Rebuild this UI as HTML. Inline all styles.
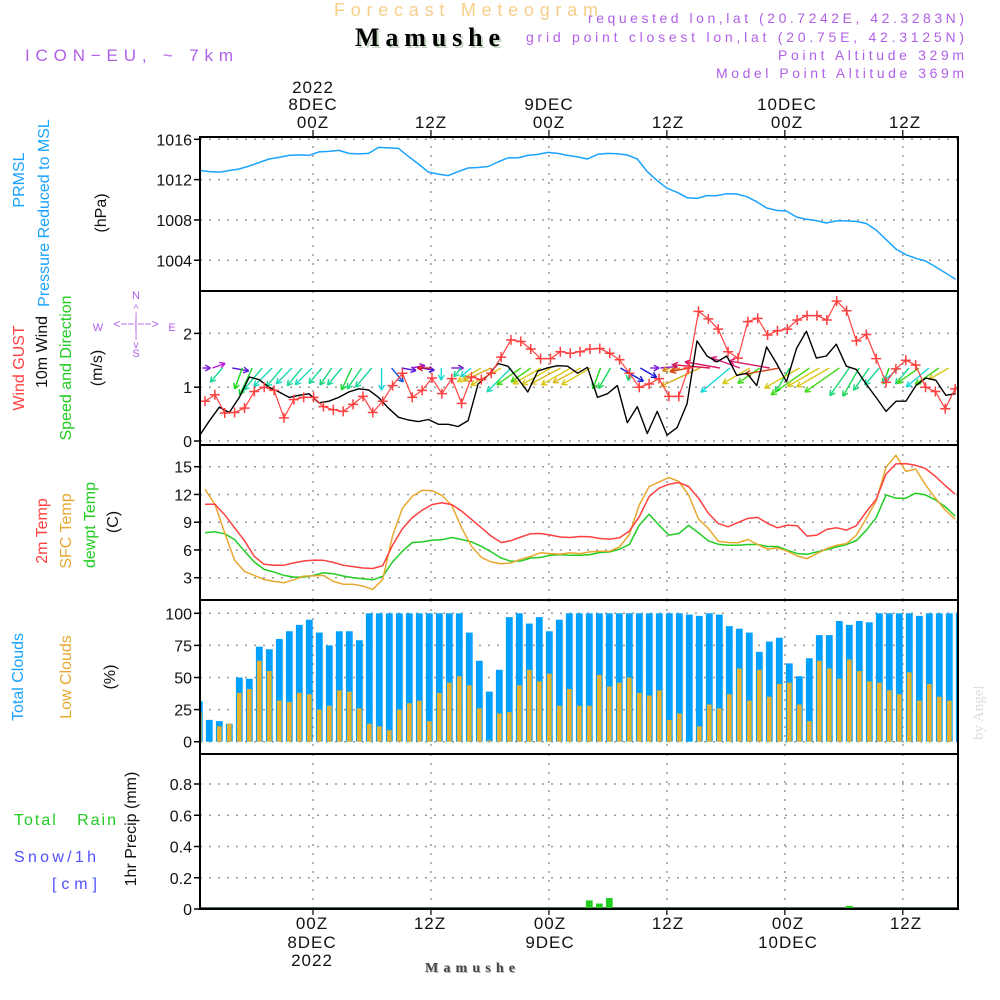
<!DOCTYPE html>
<html><head><meta charset="utf-8"><title>Meteogram Mamushe</title>
<style>
html,body{margin:0;padding:0;background:#fff;}
svg{display:block;font-family:"Liberation Sans",sans-serif;}
.tk{font-size:16px;fill:#111;}
.tm{font-size:17px;fill:#111;text-anchor:middle;letter-spacing:1px;}
</style></head>
<body>
<svg id="chart" width="1000" height="1000" viewBox="0 0 1000 1000" xmlns="http://www.w3.org/2000/svg">
<defs>
<clipPath id="cp1"><rect x="200" y="137" width="758" height="153"/></clipPath>
<clipPath id="cp2"><rect x="200" y="291" width="758" height="154"/></clipPath>
<clipPath id="cp3"><rect x="200" y="445" width="758" height="155"/></clipPath>
<clipPath id="cp4"><rect x="200" y="600" width="758" height="154"/></clipPath>
<clipPath id="cp5"><rect x="200" y="754" width="758" height="155"/></clipPath>
</defs>
<!-- header -->
<text x="334" y="16" font-size="18" fill="#f5cf8a" textLength="264" lengthAdjust="spacing">Forecast Meteogram</text>
<text x="357" y="48" font-size="26" font-weight="bold" font-family="Liberation Serif, serif" fill="#c8d8c8" textLength="145" lengthAdjust="spacing">Mamushe</text>
<text x="355" y="46" font-size="26" font-weight="bold" font-family="Liberation Serif, serif" fill="#000" textLength="145" lengthAdjust="spacing">Mamushe</text>
<text x="25" y="61" font-size="17" fill="#b060e8" textLength="208" lengthAdjust="spacing">ICON−EU, ~ 7km</text>
<g font-size="14" fill="#b060e8">
<text x="588" y="23" textLength="376" lengthAdjust="spacing">requested lon,lat (20.7242E, 42.3283N)</text>
<text x="526" y="42" textLength="438" lengthAdjust="spacing">grid point closest lon,lat (20.75E, 42.3125N)</text>
<text x="778" y="60" textLength="186" lengthAdjust="spacing">Point Altitude 329m</text>
<text x="716" y="78" textLength="248" lengthAdjust="spacing">Model Point Altitude 369m</text>
</g>
<!-- top time labels -->
<g class="tm">
<text x="313" y="93" class="tm">2022</text>
<text x="313" y="110" class="tm">8DEC</text>
<text x="313" y="128" class="tm">00Z</text>
<text x="431" y="128" class="tm">12Z</text>
<text x="549" y="110" class="tm">9DEC</text>
<text x="549" y="128" class="tm">00Z</text>
<text x="668" y="128" class="tm">12Z</text>
<text x="787" y="110" class="tm">10DEC</text>
<text x="787" y="128" class="tm">00Z</text>
<text x="905" y="128" class="tm">12Z</text>
</g>
<g>
<text x="312" y="929" class="tm">00Z</text>
<text x="312" y="948" class="tm">8DEC</text>
<text x="312" y="966" class="tm">2022</text>
<text x="430" y="929" class="tm">12Z</text>
<text x="550" y="929" class="tm">00Z</text>
<text x="550" y="948" class="tm">9DEC</text>
<text x="668" y="929" class="tm">12Z</text>
<text x="788" y="929" class="tm">00Z</text>
<text x="788" y="948" class="tm">10DEC</text>
<text x="906" y="929" class="tm">12Z</text>
</g>
<text x="426" y="973" font-size="14" font-weight="bold" font-family="Liberation Serif, serif" fill="#bbb" textLength="90" lengthAdjust="spacing">Mamushe</text>
<text x="425" y="972" font-size="14" font-weight="bold" font-family="Liberation Serif, serif" fill="#444" textLength="90" lengthAdjust="spacing">Mamushe</text>
<text transform="translate(983,740) rotate(-90)" font-size="15" font-family="Liberation Serif, serif" fill="#ddd">by Angel</text>

<!-- left axis titles -->
<g font-size="16" text-anchor="middle">
<text transform="translate(24,180) rotate(-90)" fill="#1aa3ff">PRMSL</text>
<text transform="translate(49,213) rotate(-90)" fill="#1aa3ff">Pressure Reduced to MSL</text>
<text transform="translate(106,213) rotate(-90)" fill="#111">(hPa)</text>
<text transform="translate(24,368) rotate(-90)" fill="#ff4040">Wind GUST</text>
<text transform="translate(47,352) rotate(-90)" fill="#111">10m Wind</text>
<text transform="translate(71,368) rotate(-90)" fill="#22cc22">Speed and Direction</text>
<text transform="translate(102,368) rotate(-90)" fill="#111">(m/s)</text>
<text transform="translate(47,531) rotate(-90)" fill="#ff4040">2m Temp</text>
<text transform="translate(71,531) rotate(-90)" fill="#e8a830">SFC Temp</text>
<text transform="translate(95,525) rotate(-90)" fill="#22cc22">dewpt Temp</text>
<text transform="translate(118,522) rotate(-90)" fill="#111">(C)</text>
<text transform="translate(23,677) rotate(-90)" fill="#1aa3ff">Total Clouds</text>
<text transform="translate(71,677) rotate(-90)" fill="#e8a830">Low Clouds</text>
<text transform="translate(115,677) rotate(-90)" fill="#111">(%)</text>
<text transform="translate(136,829) rotate(-90)" fill="#111">1hr Precip (mm)</text>
</g>
<text x="14" y="825" font-size="16" fill="#22cc22" textLength="102" lengthAdjust="spacing" xml:space="preserve">Total   Rain</text>
<text x="14" y="862" font-size="16" fill="#5050ff" textLength="82" lengthAdjust="spacing">Snow/1h</text>
<text x="52" y="889" font-size="16" fill="#5050ff" textLength="45" lengthAdjust="spacing">[cm]</text>
<!-- compass -->
<g fill="#b060e8" font-size="11" text-anchor="middle" stroke="none">
<text x="136" y="299">N</text><text x="136" y="357">S</text><text x="98" y="331">W</text><text x="172" y="331">E</text>
<text x="136" y="328" font-size="12">&lt;−−|−−&gt;</text>
<text x="136" y="312" font-size="10">^</text><text x="136" y="320" font-size="10">|</text>
<text x="136" y="338" font-size="10">|</text><text x="136" y="348" font-size="10">v</text>
</g>
<g id="plot"></g>
</svg>
<script>
// ===== data =====
const pressure = [1012.9,1012.8,1012.75,1012.9,1013.05,1013.35,1013.7,1014.05,1014.2,1014.4,1014.45,1014.4,1014.75,1014.8,1014.9,1014.6,1014.55,1014.6,1015.2,1015.15,1015.1,1014.3,1013.55,1012.75,1012.55,1012.4,1012.8,1013.15,1013.2,1013.3,1013.75,1014.15,1014.15,1014.4,1014.5,1014.7,1014.6,1014.4,1014.25,1014.05,1014.5,1014.6,1014.57,1014.44,1014.05,1012.79,1011.9,1011.14,1010.74,1010.21,1010.14,1010.41,1010.41,1010.6,1010.57,1010.31,1009.81,1009.18,1008.95,1008.88,1008.29,1008.06,1007.93,1007.7,1007.9,1007.9,1007.86,1007.66,1007.0,1006.07,1005.11,1004.55,1004.19,1003.92,1003.33,1002.73,1002.1];
const windSpeed = [0.1,0.375,0.63,0.53,0.81,1.19,1.14,1.0,0.91,0.81,0.85,0.88,0.71,0.74,0.81,0.91,0.97,0.95,0.81,0.61,0.44,0.39,0.36,0.4,0.31,0.31,0.27,0.38,1.06,1.22,1.44,1.39,1.16,0.91,1.3,1.36,1.4,1.39,1.26,1.37,0.81,0.88,1.03,0.34,0.64,0.14,0.55,0.11,0.25,0.69,1.86,1.58,1.47,1.58,1.22,1.26,1.03,1.75,1.44,1.1,1.72,2.04,1.54,1.58,1.8,1.39,1.33,1.06,0.81,0.55,0.74,0.74,1.03,1.17,1.13,0.85,0.88];
const windGust = [0.74,0.86,0.52,0.53,0.61,0.92,1.0,0.94,0.43,0.77,0.81,0.81,0.64,0.58,0.55,0.68,0.83,0.53,0.74,1.03,1.26,0.81,0.94,1.17,0.88,1.16,0.7,1.19,1.14,1.26,1.56,1.88,1.85,1.71,1.53,1.53,1.66,1.63,1.66,1.71,1.72,1.63,1.51,1.26,1.0,1.06,1.16,0.83,0.83,1.36,2.41,2.27,2.08,1.66,1.54,2.22,2.28,1.97,2.05,2.08,2.25,2.33,2.33,2.25,2.6,2.42,1.86,1.98,1.53,1.09,1.34,1.5,1.41,1.0,0.92,0.6,0.97];
const windDir = [270,250,40,280,20,25,40,45,40,45,40,45,40,35,40,25,35,40,0,320,280,260,280,90,0,270,40,50,60,65,60,45,55,55,60,60,62,60,62,60,20,30,300,10,300,270,265,70,70,80,65,95,100,50,110,60,55,100,80,30,60,55,60,60,55,35,30,35,40,20,50,40,55,50,55,60,300];
const temp2m = [10.94,10.94,9.8,8.4,7.0,5.3,4.45,4.35,4.35,4.6,4.8,4.9,4.88,4.65,4.35,4.2,4.05,4.0,4.3,6.5,8.3,9.5,10.3,10.9,11.1,10.9,10.2,9.3,8.4,7.5,6.8,7.0,7.4,7.75,7.78,7.6,7.4,7.35,7.45,7.42,7.24,7.17,7.31,8.04,9.59,11.77,12.68,13.11,13.29,12.86,11.59,9.96,8.87,8.5,8.98,9.41,9.52,8.87,8.4,8.69,8.62,7.5,7.6,8.22,8.4,8.15,8.62,10.14,11.48,14.2,15.3,15.33,15.15,14.79,13.95,12.97,12.03];
const tempSfc = [12.57,10.94,7.85,4.88,3.68,3.25,2.81,2.6,2.45,2.77,3.17,3.2,3.25,2.6,2.3,2.3,2.09,1.73,2.81,7.5,10.5,11.8,12.46,12.42,11.9,10.8,8.4,6.4,5.2,4.7,4.5,4.6,5.0,5.3,5.7,5.6,5.55,5.7,5.61,5.79,5.86,5.86,6.33,7.67,10.87,12.86,13.33,13.84,13.4,11.95,9.34,8.33,6.95,6.8,6.77,7.13,6.59,6.08,6.22,5.86,5.35,5.06,5.61,6.15,6.51,6.69,7.6,9.41,11.3,14.93,16.23,14.49,14.75,13.04,11.59,10.32,9.34];
const tempDew = [7.85,7.96,7.75,7.13,5.86,4.7,3.9,3.61,3.25,3.07,3.07,3.25,3.54,3.43,3.18,3.0,2.89,2.78,3.14,4.7,5.86,6.8,6.87,7.06,7.1,7.35,7.13,6.87,6.4,5.79,5.13,4.77,4.81,5.13,5.2,5.42,5.5,5.42,5.42,5.5,5.72,5.79,6.08,6.59,8.69,9.85,8.69,7.6,7.78,8.65,7.85,6.98,6.62,6.51,6.51,6.59,6.59,6.37,6.37,5.97,5.61,5.53,5.79,6.04,6.33,6.59,7.02,8.14,9.49,11.95,11.59,11.59,12.13,11.95,11.41,10.68,9.67];
const cloudTotal = [31.5,17,16,14,50,49,74,72,80,86,91,95,85,75,86,86,79,100,100,100,100,100,100,100,100,100,100,85,63,39,56,97,100,92,97,86,95,100,100,100,100,100,100,100,100,100,100,100,100,99,98,100,99,90,88,85,70,78,81,61,51,65,83,83,94,91,94,93,100,100,100,100,98,100,100,100,100];
const cloudLow = [23,0,12,14,38,41,63,55,32,31,38,37,25,28,40,39,26,14,12,9,25,30,32,16,38,46,51,44,26,1,22,23,44,56,47,53,28,41,28,28,52,43,46,50,38,36,40,17,22,0,12,29,26,37,57,32,56,35,45,46,29,16,63,57,49,64,55,47,46,40,37,54,32,45,35,32,20];
const precip = [0,0,0,0,0,0,0,0,0,0,0,0,0,0,0,0,0,0,0,0,0,0,0,0,0,0,0,0,0,0,0,0,0,0,0,0,0,0,0,0.055,0.035,0.07,0,0,0,0,0,0,0,0,0,0,0,0,0,0,0,0,0,0,0,0,0,0,0,0.02,0,0,0,0,0,0,0,0,0,0];
const timeTicks = [0,12,24,36,48,60];
const pTicks = [1016,1012,1008,1004];
const wTicks = [2,1,0];
const tTicks = [15,12,9,6,3];
const cTicks = [100,75,50,25,0];
const rTicks = [0.8,0.6,0.4,0.2,0];

// ===== scales =====
const X0=200, X1=958;
const xTime = h => 313 + h*9.83;
const xLine = j => 205 + j*9.87;
const xStep = i => 199.5 + i*9.95;
const xBar = k => 199.3 + k*10;
const yP = v => 139.3 + (1016 - v)*10.08;
const yW = v => 441 - v*53.8;
const yT = v => 466.7 + (15 - v)*9.25;
const yC = v => 741.7 - v*1.284;
const yR = v => 909 - v*156.25;
const panels=[{t:137,b:291,cp:'cp1'},{t:291,b:445,cp:'cp2'},{t:445,b:600,cp:'cp3'},{t:600,b:754,cp:'cp4'},{t:754,b:909,cp:'cp5'}];

const NS='http://www.w3.org/2000/svg';
const plot=document.getElementById('plot');
function mk(tag,attrs,parent){const e=document.createElementNS(NS,tag);for(const k in attrs)e.setAttribute(k,attrs[k]);(parent||plot).appendChild(e);return e;}

// grids
panels.forEach((p,pi)=>{
  timeTicks.forEach(h=>{
    const g=mk('line',{x1:xTime(h),x2:xTime(h),y1:p.t,y2:p.b,stroke:'#999','stroke-width':1.5,'stroke-dasharray':'2,7'});
    
    
  });
});
function hgrid(ticks,ys,fmt,name){
  ticks.forEach(v=>{
    const y=ys(v);
    const g=mk('line',{x1:X0,x2:X1,y1:y,y2:y,stroke:'#999','stroke-width':1.5,'stroke-dasharray':'2,7'});
    
    
    const t=mk('line',{x1:194,x2:200,y1:y,y2:y,stroke:'#000','stroke-width':1.5});
    
    
    const l=mk('text',{x:192,y:y+6,'text-anchor':'end','class':'tk'});
    l.textContent=fmt(v);
    
    
  });
}
hgrid(pTicks,yP,v=>String(v),'pressure');
hgrid(wTicks,yW,v=>String(v),'wind');
hgrid(tTicks,yT,v=>String(v),'temp');
hgrid(cTicks,yC,v=>String(v),'cloud');
hgrid(rTicks,yR,v=>v===0?'0':v.toFixed(1),'precip');
timeTicks.forEach(h=>{
  const a=mk('line',{x1:xTime(h),x2:xTime(h),y1:130,y2:137,stroke:'#000','stroke-width':1.2});
  
  
  const b=mk('line',{x1:xTime(h),x2:xTime(h),y1:909,y2:915,stroke:'#000','stroke-width':1.2});
  
  
});

function line(arr,xs,ys,color,cp,name,w){
  const pts=arr.map((v,i)=>xs(i).toFixed(1)+','+ys(v).toFixed(1)).join(' ');
  const e=mk('polyline',{points:pts,fill:'none',stroke:color,'stroke-width':w||1.5,'clip-path':'url(#'+cp+')','stroke-linejoin':'round'});
  
  
  return e;
}
// clouds
cloudTotal.forEach((v,k)=>{
  const e=mk('rect',{x:xBar(k)-3.4,y:yC(v),width:6.8,height:yC(0)-yC(v),fill:'#00a0ff','clip-path':'url(#cp4)'});
  
  
});
cloudLow.forEach((v,k)=>{
  const e=mk('rect',{x:xBar(k)-2.3,y:yC(v),width:4.6,height:yC(0)-yC(v),fill:'#e6b030','clip-path':'url(#cp4)'});
  
  
});
// precip
const pz=mk('line',{x1:X0,x2:X1,y1:yR(0)-1,y2:yR(0)-1,stroke:'#224422','stroke-width':1.5});


precip.forEach((v,k)=>{
  if(v<=0) return;
  const e=mk('rect',{x:xBar(k)-3.4,y:yR(v),width:6.8,height:yR(0)-yR(v),fill:'#22cc22'});
  
  
});
// pressure
line(pressure,xStep,yP,'#1aa3ff','cp1','pressure-line');
// temps
line(tempDew,xLine,yT,'#22cc22','cp3','dewpoint-line');
line(tempSfc,xLine,yT,'#e8a830','cp3','sfc-temp-line');
line(temp2m,xLine,yT,'#ff4040','cp3','temp-2m-line');
// wind arrows
function dirColor(d){
  let h;
  if(d<=50){h=120+(d-20)*2; if(d<20) h=180-d*3;}
  else if(d<=60){h=160-(d-50)*10.5;}
  else if(d<=100){h=55-(d-60)*2;}
  else if(d<=180){h=330;}
  else {h=180+(360-d);}
  h=((h%360)+360)%360;
  return 'hsl('+h+',80%,47%)';
}
windDir.forEach((d,i)=>{
  const sp=windSpeed[i];
  const L=Math.max(7,6+20*sp);
  const a=(d+180)*Math.PI/180; // toward
  const x0=xStep(i)+3, y0=368;
  const x1=x0+L*Math.sin(a), y1=y0-L*Math.cos(a);
  const g=mk('g',{stroke:dirColor(d),'stroke-width':1.4,fill:'none','clip-path':'url(#cp2)'});
  
  
  mk('line',{x1:x0,y1:y0,x2:x1,y2:y1},g);
  const ang=Math.atan2(y1-y0,x1-x0);
  [0.5,-0.5].forEach(o=>{mk('line',{x1:x1,y1:y1,x2:x1-6*Math.cos(ang+o),y2:y1-6*Math.sin(ang+o)},g);});
});
// wind lines
line(windSpeed,xStep,yW,'#000','cp2','wind-speed-line',1.4);
line(windGust,xLine,yW,'#ff4040','cp2','wind-gust-line',1.2);
windGust.forEach((v,j)=>{
  const x=xLine(j),y=yW(v);
  const g=mk('path',{d:'M'+(x-5)+' '+y+'h10M'+x+' '+(y-5)+'v10',stroke:'#ff4040','stroke-width':1.5,'clip-path':'url(#cp2)'});
  
  
});
// frames
panels.forEach((p,pi)=>{
  const r=mk('rect',{x:X0,y:p.t,width:X1-X0,height:p.b-p.t,fill:'none',stroke:'#000','stroke-width':2});
  
  
});
</script>
</body></html>
